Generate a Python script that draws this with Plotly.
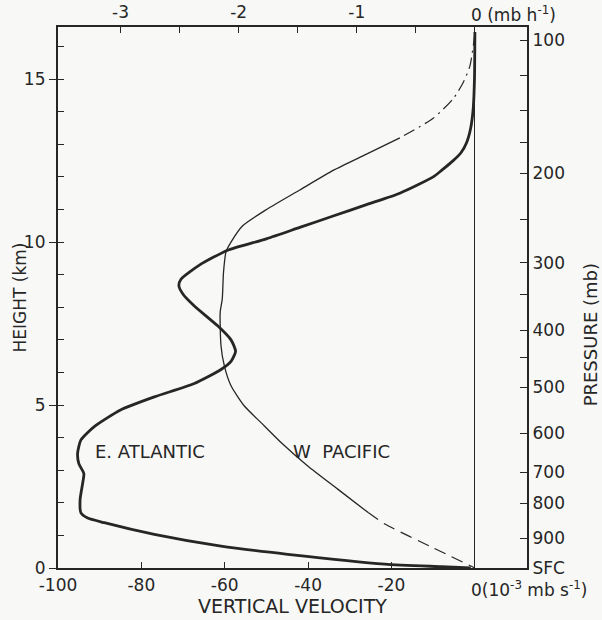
import plotly.graph_objects as go

# ---------------- data ----------------
# E. Atlantic profile: vertical velocity (10^-3 mb s^-1 as labelled) vs height (km)
ea_vel = [0, -0.1, -0.4, -1.0, -2.0, -3.3, -5.2, -8.0, -10.0, -18.0, -26.0, -34.0, -42.0,
          -50.0, -59.3, -66.0, -70.5, -71.0, -70.0, -67.3, -61.7, -58.5, -57.4, -58.5,
          -60.9, -67.3, -76.9, -85.0, -91.3, -94.5, -95.3, -95.0, -93.8, -94.1, -94.7,
          -94.5, -93.0, -88.9, -76.9, -60.9, -44.9, -21.6, -8.0, -1.0]
ea_hgt = [16.45, 15.0, 14.1, 13.5, 13.05, 12.75, 12.5, 12.2, 12.0, 11.5, 11.15, 10.8, 10.45,
          10.1, 9.75, 9.3, 8.86, 8.66, 8.4, 8.04, 7.43, 7.0, 6.65, 6.34,
          6.09, 5.66, 5.25, 4.85, 4.34, 3.93, 3.52, 3.2, 2.9, 2.59, 2.1,
          1.69, 1.54, 1.39, 1.03, 0.67, 0.42, 0.12, 0.04, 0.0]

# W Pacific profile, in three pieces (upper dash-dot, middle solid, lower dashed)
wp_top_vel = [0, -1.2, -2.8, -5.2, -10.0, -18.0]
wp_top_hgt = [16.4, 15.4, 14.9, 14.4, 13.8, 13.2]
wp_mid_vel = [-18.0, -26.0, -34.0, -42.0, -50.0, -55.7, -58.5, -59.7, -60.3, -60.6, -61.1,
              -60.9, -60.1, -58.5, -55.3, -51.3, -46.5, -40.1, -32.9, -25.6]
wp_mid_hgt = [13.2, 12.7, 12.2, 11.6, 11.0, 10.5, 10.0, 9.7, 9.07, 8.25, 7.84,
              6.82, 6.2, 5.59, 4.97, 4.46, 3.85, 3.13, 2.42, 1.7]
wp_low_vel = [-25.6, -21.6, -10.5, 0]
wp_low_hgt = [1.7, 1.35, 0.65, 0.0]

# axes
vel_ticks = [-100, -80, -60, -40, -20]
vel_ticktext = ["-100", "-80", "-60", "-40", "-20"]
mbh_ticks = [-3, -2.5, -2, -1.5, -1, -0.5, 0]
mbh_ticktext = ["-3", "", "-2", "", "-1", "", ""]
MBH_PER_UNIT = 0.0353        # top-axis (mb h^-1) per bottom-axis unit, as drawn
p_labels = ["100", "200", "300", "400", "500", "600", "700", "800", "900", "SFC"]
p_heights = [16.2, 12.12, 9.36, 7.30, 5.55, 4.14, 2.94, 1.99, 0.92, 0.0]
p_minor_heights = [15.1, 14.05, 13.05, 10.7, 8.4, 6.45]

X_RANGE = [-100, 12.5]
Y_RANGE = [0, 16.6]

INK = "#262626"
FONT = "DejaVu Sans"

fig = go.Figure()

fig.add_trace(go.Scatter(x=ea_vel, y=ea_hgt, mode="lines",
                         line=dict(color=INK, width=2.8, shape="spline", smoothing=0.6),
                         hoverinfo="skip"))
fig.add_trace(go.Scatter(x=wp_top_vel, y=wp_top_hgt, mode="lines",
                         line=dict(color=INK, width=1.2, shape="spline", smoothing=0.6,
                                   dash="12px,5px,2px,5px"),
                         hoverinfo="skip"))
fig.add_trace(go.Scatter(x=wp_mid_vel, y=wp_mid_hgt, mode="lines",
                         line=dict(color=INK, width=1.3, shape="spline", smoothing=0.6),
                         hoverinfo="skip"))
fig.add_trace(go.Scatter(x=wp_low_vel, y=wp_low_hgt, mode="lines",
                         line=dict(color=INK, width=1.2, shape="spline", smoothing=0.6,
                                   dash="12px,7px"),
                         hoverinfo="skip"))
# invisible anchor trace so the top / right axes are drawn
fig.add_trace(go.Scatter(x=[wp_low_vel[-1] * MBH_PER_UNIT], y=[wp_low_hgt[-1]],
                         xaxis="x2", yaxis="y2", mode="markers",
                         marker=dict(opacity=0), hoverinfo="skip"))

tickfont = dict(family=FONT, size=17, color=INK)

fig.update_layout(
    width=602, height=620,
    margin=dict(l=58, r=75, t=27, b=52, autoexpand=False),
    paper_bgcolor="#f8f8f6", plot_bgcolor="#f8f8f6",
    showlegend=False,
    xaxis=dict(range=X_RANGE, tickvals=vel_ticks, ticktext=vel_ticktext,
               ticks="inside", ticklen=6, tickwidth=1.3, tickcolor=INK,
               showline=True, linewidth=2.2, linecolor=INK, automargin=False,
               showgrid=False, zeroline=True, zerolinecolor=INK, zerolinewidth=1.3,
               tickfont=tickfont, fixedrange=True),
    xaxis2=dict(range=[X_RANGE[0] * MBH_PER_UNIT, X_RANGE[1] * MBH_PER_UNIT],
                overlaying="x", side="top", anchor="y", automargin=False,
                tickvals=mbh_ticks, ticktext=mbh_ticktext,
                ticks="inside", ticklen=6, tickwidth=1.3, tickcolor=INK,
                showline=True, linewidth=2.2, linecolor=INK,
                showgrid=False, zeroline=False, tickfont=tickfont),
    yaxis=dict(range=Y_RANGE, tickmode="linear", tick0=0, dtick=5, automargin=False,
               ticks="outside", ticklen=7, tickwidth=1.3, tickcolor=INK,
               minor=dict(ticks="inside", dtick=1, tick0=0, ticklen=6,
                          tickwidth=1.3, tickcolor=INK, showgrid=False),
               showline=True, linewidth=2.2, linecolor=INK,
               showgrid=False, zeroline=False, tickfont=tickfont),
    yaxis2=dict(range=Y_RANGE, overlaying="y", side="right", anchor="x", automargin=False,
                tickvals=p_heights + p_minor_heights,
                ticktext=p_labels + [""] * len(p_minor_heights),
                ticks="inside", ticklen=7, tickwidth=1.3, tickcolor=INK,
                showline=True, linewidth=2.2, linecolor=INK,
                showgrid=False, zeroline=False, tickfont=tickfont),
)

ann_font = dict(family=FONT, size=17, color=INK)
fig.add_annotation(text="0 (mb h<sup>-1</sup>)", xref="x", yref="paper", x=0, y=1,
                   xanchor="left", yanchor="bottom", xshift=-6, yshift=0,
                   showarrow=False, font=ann_font)
fig.add_annotation(text="0(10<sup>-3</sup> mb s<sup>-1</sup>)", xref="x", yref="paper",
                   x=0, y=0, xanchor="left", yanchor="top", xshift=-6, yshift=-8,
                   showarrow=False, font=ann_font)
fig.add_annotation(text="VERTICAL VELOCITY", xref="paper", yref="paper", x=0.5, y=0,
                   xanchor="center", yanchor="middle", yshift=-38,
                   showarrow=False, font=dict(family=FONT, size=19, color=INK))
fig.add_annotation(text="HEIGHT (km)", xref="paper", yref="paper", x=0, y=0.5,
                   xanchor="center", yanchor="middle", xshift=-39, textangle=-90,
                   showarrow=False, font=dict(family=FONT, size=17, color=INK))
fig.add_annotation(text="PRESSURE (mb)", xref="paper", yref="paper", x=1, y=0.43,
                   xanchor="center", yanchor="middle", xshift=63, textangle=-90,
                   showarrow=False, font=dict(family=FONT, size=18, color=INK))
fig.add_annotation(text="E. ATLANTIC", xref="x", yref="y", x=-78, y=3.56,
                   xanchor="center", yanchor="middle", showarrow=False,
                   font=dict(family=FONT, size=18, color=INK))
fig.add_annotation(text="W  PACIFIC", xref="x", yref="y", x=-32, y=3.56,
                   xanchor="center", yanchor="middle", showarrow=False,
                   font=dict(family=FONT, size=18, color=INK))

fig.write_html("out.html")
